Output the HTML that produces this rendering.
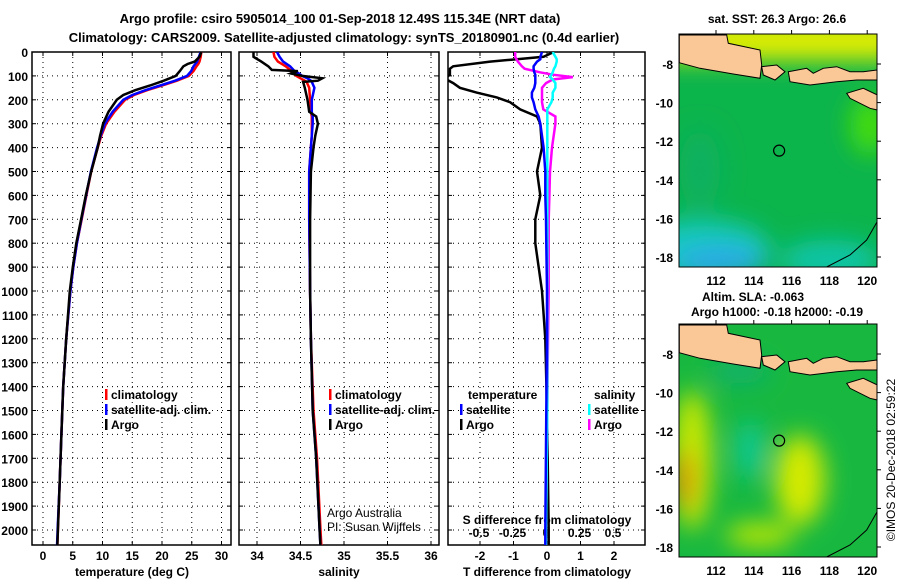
<!DOCTYPE html>
<html><head><meta charset="utf-8">
<style>
html,body{margin:0;padding:0;background:#fff;}
svg{display:block;font-family:"Liberation Sans",sans-serif;}
.b{font-weight:bold;font-size:13px;}
.t{font-weight:bold;font-size:12px;}
</style></head>
<body>
<svg id="chart" width="900" height="580" viewBox="0 0 900 580" xmlns="http://www.w3.org/2000/svg">
<defs>
<clipPath id="c1"><rect x="32" y="52" width="199" height="493"/></clipPath>
<clipPath id="c2"><rect x="239" y="52" width="200" height="493"/></clipPath>
<clipPath id="c3"><rect x="448" y="52" width="197" height="493"/></clipPath>
<clipPath id="cm1"><rect x="679" y="34" width="198" height="233"/></clipPath>
<clipPath id="cm2"><rect x="679" y="324" width="198" height="233"/></clipPath>
<filter id="blur" x="-50%" y="-50%" width="200%" height="200%"><feGaussianBlur stdDeviation="12"/></filter>
</defs>
<text class="b" x="340" y="23" text-anchor="middle">Argo profile: csiro 5905014_100 01-Sep-2018 12.49S 115.34E (NRT data)</text>
<text class="b" x="344" y="42" text-anchor="middle">Climatology: CARS2009. Satellite-adjusted climatology: synTS_20180901.nc (0.4d earlier)</text>
<g id="g"></g>
</svg>
<script>
// ---- Temperature profiles ----
const depthT = [0,20,40,50,60,80,100,120,140,160,180,200,250,300,350,400,500,600,700,800,900,1000,1200,1400,1600,1800,2000,2070];
const argoT = [26.6,26.3,25.5,24.3,23.6,23,22.3,20.3,18,15.5,13.5,12.4,11,10.1,9.6,9.2,8.1,7.2,6.4,5.6,5,4.5,3.9,3.4,3.1,2.8,2.5,2.4];
const climT = [26.6,26.5,26.3,26.1,25.8,25.3,24.5,22.5,20,17.5,15.3,13.8,12,10.6,9.8,9.2,8.1,7.3,6.5,5.7,5.1,4.6,3.9,3.4,3.1,2.8,2.5,2.4];
const satT = [26.5,26.2,25.9,25.6,25.3,24.9,24.2,22.2,19.7,17.2,15,13.5,11.7,10.4,9.7,9.1,8.05,7.25,6.45,5.7,5.1,4.6,3.9,3.4,3.1,2.8,2.45,2.35];
// ---- Salinity profiles ----
const depthS = [0,20,40,60,75,80,90,100,110,120,125,150,200,250,270,300,350,400,500,700,1000,1200,1500,1700,2000,2070];
const argoS = [33.96,33.96,34.05,34.13,34.17,34.47,34.39,34.52,34.75,34.7,34.53,34.55,34.58,34.6,34.68,34.7,34.67,34.65,34.62,34.61,34.61,34.62,34.64,34.68,34.72,34.73];
const climS = [34.19,34.2,34.24,34.33,34.38,34.39,34.42,34.45,34.5,34.55,34.57,34.6,34.61,34.62,34.63,34.63,34.63,34.62,34.6,34.6,34.61,34.62,34.65,34.69,34.73,34.74];
const satS = [34.23,34.26,34.3,34.38,34.42,34.43,34.48,34.52,34.58,34.62,34.63,34.66,34.63,34.63,34.64,34.64,34.63,34.62,34.6,34.6,34.61,34.62,34.64,34.68,34.72,34.73];
// ---- Differences from climatology ----
const depthD = [0,20,30,40,60,70,85,95,105,115,130,150,170,190,210,240,270,300,400,500,600,700,800,1000,1200,1500,2000,2070];
const argoDT = [0.2,-0.1,-0.9,-1.7,-2.8,-2.9,-2.9,-2.9,-3,-3,-2.8,-2.6,-2.1,-1.5,-1.1,-0.8,-0.3,-0.2,-0.15,-0.3,-0.2,-0.35,-0.35,-0.15,-0.05,0,0.05,0.05];
const satDT = [-0.15,-0.2,-0.2,-0.3,-0.4,-0.4,-0.38,-0.35,-0.35,-0.35,-0.35,-0.38,-0.45,-0.45,-0.4,-0.35,-0.25,-0.2,-0.1,-0.05,-0.05,-0.03,-0.02,0,0,-0.02,-0.05,-0.05];
const argoDS = [-0.23,-0.23,-0.22,-0.21,-0.18,-0.16,-0.045,0.05,0.2,0.05,0,-0.03,-0.03,-0.03,-0.03,-0.02,0.07,0.07,0.045,0.03,0.025,0.02,0.02,0.02,0.015,0.01,0,0];
const satDS = [0.05,0.07,0.08,0.08,0.07,0.06,0.05,0.04,0.03,0.05,0.07,0.07,0.05,0.05,0.04,0.01,0.01,0.01,0.01,0.01,0.01,0.01,0.01,0.01,0.01,0.01,0,0];
// ---- Tick labels ----
const depthTicks = [0,100,200,300,400,500,600,700,800,900,1000,1100,1200,1300,1400,1500,1600,1700,1800,1900,2000];
const tempTicks = [0,5,10,15,20,25,30];
const salTicks = ["34","34.5","35","35.5","36"];
const dTTicks = [-2,-1,0,1,2];
const dSTicks = ["-0.5","-0.25","0","0.25","0.5"];
const latTicks = [-8,-10,-12,-14,-16,-18];
const lonTicks = [112,114,116,118,120];
const argoLon = 115.34, argoLat = -12.49;

const NS="http://www.w3.org/2000/svg";
const G=document.getElementById('g');
function el(tag,attrs,parent,txt){const e=document.createElementNS(NS,tag);for(const k in attrs)e.setAttribute(k,attrs[k]);if(txt!==undefined)e.textContent=txt;(parent||G).appendChild(e);return e;}
const yD=d=>52+d*0.239;
const xT=t=>43+t*5.95;
const xS=s=>257+(parseFloat(s)-34)*87;
const xDT=t=>547+t*33.5;
const xDS=s=>546+parseFloat(s)*134;
const panels=[{x:32,w:199},{x:239,w:200},{x:448,w:197}];

panels.forEach((p,i)=>{
  const f=el('rect',{x:p.x,y:52,width:p.w,height:493,fill:'none',stroke:'#000','stroke-width':1.5});
  
  
  depthTicks.forEach(d=>{ if(d===0) return;
    const l=el('line',{x1:p.x,x2:p.x+p.w,y1:yD(d),y2:yD(d),stroke:'#000','stroke-width':1,'stroke-dasharray':'1,4'});
    
    
    el('line',{x1:p.x,x2:p.x+4,y1:yD(d),y2:yD(d),stroke:'#000'});
    el('line',{x1:p.x+p.w-4,x2:p.x+p.w,y1:yD(d),y2:yD(d),stroke:'#000'});
  });
});
depthTicks.forEach(d=>{
  const t=el('text',{x:28,y:yD(d)+5,'text-anchor':'end',class:'t'},G,String(d));
  
  
});
function vgrid(xs){xs.forEach(x=>{el('line',{x1:x,x2:x,y1:52,y2:545,stroke:'#000','stroke-dasharray':'1,4'});el('line',{x1:x,x2:x,y1:52,y2:56,stroke:'#000'});el('line',{x1:x,x2:x,y1:541,y2:545,stroke:'#000'});});}
vgrid(tempTicks.map(xT));
vgrid(salTicks.map(xS));
vgrid(dTTicks.map(xDT));
tempTicks.forEach(t=>{const e=el('text',{x:xT(t),y:560,'text-anchor':'middle',class:'t'},G,String(t));});
salTicks.forEach(s=>{const e=el('text',{x:xS(s),y:560,'text-anchor':'middle',class:'t'},G,s);});
dTTicks.forEach(t=>{const e=el('text',{x:xDT(t),y:560,'text-anchor':'middle',class:'t'},G,String(t));});
dSTicks.forEach(s=>{const e=el('text',{x:xDS(s),y:537,'text-anchor':'middle',class:'t'},G,s);});
[[132,'temperature (deg C)','x-axis-title-temperature'],[339,'salinity','x-axis-title-salinity'],[547,'T difference from climatology','x-axis-title-t-diff']].forEach(a=>{const e=el('text',{x:a[0],y:576,'text-anchor':'middle',class:'t'},G,a[1]);});
{const e=el('text',{x:547,y:524,'text-anchor':'middle',class:'t'},G,'S difference from climatology');}

function line(clip,depths,vals,fx,color,name){
  const pts=depths.map((d,i)=>fx(vals[i]).toFixed(1)+','+yD(d).toFixed(1)).join(' ');
  const p=el('polyline',{points:pts,fill:'none',stroke:color,'stroke-width':2.5,'stroke-linejoin':'miter','clip-path':'url(#'+clip+')'});
  
  
}
line('c1',depthT,climT,xT,'#f00','temperature-climatology-line');
line('c1',depthT,satT,xT,'#00f','temperature-satellite-line');
line('c1',depthT,argoT,xT,'#000','temperature-argo-line');
line('c2',depthS,climS,xS,'#f00','salinity-climatology-line');
line('c2',depthS,satS,xS,'#00f','salinity-satellite-line');
line('c2',depthS,argoS,xS,'#000','salinity-argo-line');
line('c3',depthD,argoDT,xDT,'#000','t-diff-argo-line');
line('c3',depthD,argoDS,xDS,'#f0f','s-diff-argo-line');
line('c3',depthD,satDS,xDS,'#0ff','s-diff-satellite-line');
line('c3',depthD,satDT,xDT,'#00f','t-diff-satellite-line');

function leg(x,y,color,txt,name,tx){
  const g=el('g',{});
  
  
  if(color) el('rect',{x:x,y:y-9,width:2.5,height:11,fill:color},g);
  el('text',{x:tx!==undefined?tx:x+6,y:y+1,class:'t'},g,txt);
}
leg(105,398,'#f00','climatology','legend-climatology');
leg(105,413,'#00f','satellite-adj. clim.','legend-satellite-adj');
leg(105,428,'#000','Argo','legend-argo');
leg(329,398,'#f00','climatology','legend-climatology-sal');
leg(329,413,'#00f','satellite-adj. clim.','legend-satellite-adj-sal');
leg(329,428,'#000','Argo','legend-argo-sal');
leg(460,398,null,'temperature','legend-temperature-header',468);
leg(460,413,'#00f','satellite','legend-t-satellite');
leg(460,428,'#000','Argo','legend-t-argo');
leg(588,398,null,'salinity','legend-salinity-header',594);
leg(588,413,'#0ff','satellite','legend-s-satellite');
leg(588,428,'#f0f','Argo','legend-s-argo');
{const g=el('g',{});
el('text',{x:327,y:517,'font-size':12},g,'Argo Australia');el('text',{x:327,y:531,'font-size':12},g,'PI: Susan Wijffels');}

// ---- Maps ----
const mx=lon=>716+(lon-112)*18.9;
function drawMap(oy,clip,kind,name){
  const my=lat=>oy+64-(lat+8)*19.3;
  const g=el('g',{'clip-path':'url(#'+clip+')'});
  
  
  const bg=el('g',{},g);
  if(kind==='sst'){
    el('rect',{x:679,y:oy+34,width:198,height:233,fill:'#0cb44c'},bg);
    const fb=el('g',{filter:'url(#blur)'},bg);
    el('rect',{x:660,y:oy+20,width:240,height:40,fill:'#e4ee00'},fb);
    el('ellipse',{cx:700,cy:oy+250,rx:70,ry:30,fill:'#18c8c0'},fb);
    el('ellipse',{cx:720,cy:oy+262,rx:45,ry:15,fill:'#2aa8e8'},fb);
    el('ellipse',{cx:830,cy:oy+260,rx:50,ry:20,fill:'#10c4a8'},fb);
    el('ellipse',{cx:870,cy:oy+125,rx:20,ry:30,fill:'#44dc10'},fb);
    el('ellipse',{cx:700,cy:oy+170,rx:20,ry:40,fill:'#10b060'},fb);
  } else {
    el('rect',{x:679,y:oy+34,width:198,height:233,fill:'#18b840'},bg);
    const fb=el('g',{filter:'url(#blur)'},bg);
    el('ellipse',{cx:692,cy:oy+170,rx:20,ry:70,fill:'#c8e800'},fb);
    el('ellipse',{cx:684,cy:oy+190,rx:10,ry:30,fill:'#e88c00'},fb);
    el('ellipse',{cx:800,cy:oy+190,rx:25,ry:45,fill:'#d4ea00'},fb);
    el('ellipse',{cx:750,cy:oy+160,rx:15,ry:30,fill:'#10c890'},fb);
    el('ellipse',{cx:760,cy:oy+245,rx:35,ry:12,fill:'#c0e800'},fb);
    el('ellipse',{cx:740,cy:oy+82,rx:30,ry:12,fill:'#10b070'},fb);
  }
  const land=[
    [[88,105],[230,105],[235,130],[330,150],[335,195],[330,235],[250,222],[150,205],[88,188]],
    [[335,200],[380,195],[405,215],[375,240],[340,225]],
    [[415,215],[470,205],[490,220],[520,205],[560,200],[600,215],[640,215],[682,210],[682,240],[620,240],[560,245],[480,255],[420,245]],
    [[590,280],[640,265],[682,285],[682,330],[660,325],[600,295]]
  ];
  land.forEach(poly=>{
    const p=el('polygon',{points:poly.map(q=>(650+q[0]/3).toFixed(1)+','+(oy+q[1]/3).toFixed(1)).join(' '),fill:'#fac896',stroke:'#000','stroke-width':1},g);
    
    
  });
  el('polyline',{points:`${650+530/3},${oy+267} ${650+600/3},${oy+255} ${650+650/3},${oy+240} ${877},${oy+222}`,fill:'none',stroke:'#000'},g);
  const c=el('circle',{cx:mx(argoLon),cy:my(argoLat),r:5.5,fill:'none',stroke:'#000','stroke-width':1.2});
  
  
  el('rect',{x:679,y:oy+34,width:198,height:233,fill:'none',stroke:'#000','stroke-width':1});
  latTicks.forEach(l=>{
    const t=el('text',{x:673,y:my(l)+5,'text-anchor':'end',class:'t'},G,String(l));
    
    
    el('line',{x1:877,x2:881,y1:my(l),y2:my(l),stroke:'#000'});
  });
  lonTicks.forEach(l=>{
    const t=el('text',{x:mx(l),y:oy+285,'text-anchor':'middle',class:'t'},G,String(l));
    
    
    el('line',{x1:mx(l),x2:mx(l),y1:oy+30,y2:oy+34,stroke:'#000'});
  });
}
drawMap(0,'cm1','sst','sst-map');
drawMap(290,'cm2','sla','sla-map');
{const e=el('text',{x:777,y:23,'text-anchor':'middle',class:'t'},G,'sat. SST: 26.3 Argo: 26.6');}
{const e=el('text',{x:753,y:301,'text-anchor':'middle',class:'t'},G,'Altim. SLA: -0.063');}
{const e=el('text',{x:777,y:316,'text-anchor':'middle',class:'t'},G,'Argo h1000: -0.18 h2000: -0.19');}
{const e=el('text',{x:0,y:0,'text-anchor':'middle','font-size':12,transform:'translate(895,460) rotate(-90)'},G,'©IMOS 20-Dec-2018 02:59:22');}
</script>
</body></html>
